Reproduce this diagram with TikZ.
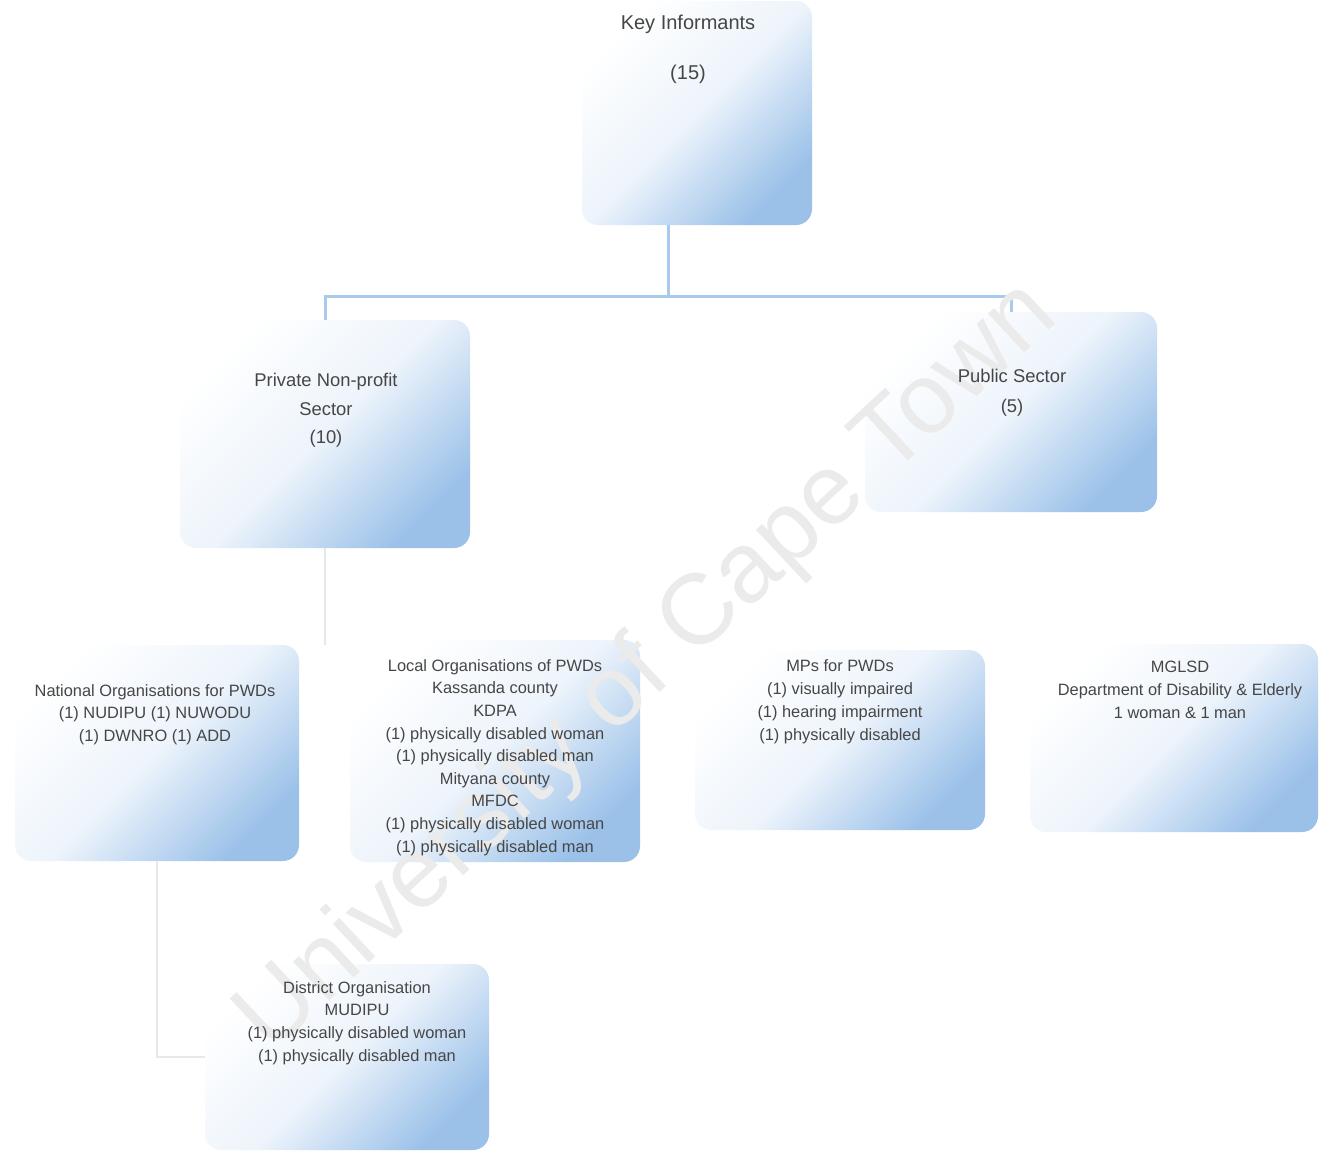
\documentclass[tikz,border=0pt]{standalone}
\usepackage{fontspec}
\setmainfont{Liberation Sans}
\usetikzlibrary{positioning}

\definecolor{boxblue}{RGB}{155,193,233}
\definecolor{linkblue}{RGB}{170,202,235}
\definecolor{inkgray}{RGB}{70,70,70}

\begin{document}
\begin{tikzpicture}[x=0.5pt, y=-0.5pt,
    orgbox/.style={rectangle, rounded corners=8pt, inner sep=0pt,
        top color=white, bottom color=boxblue, middle color=boxblue!18, shading angle=45},
    orgtext/.style={anchor=north, align=center, inner sep=0pt, text=inkgray,
        font=\fontsize{8.2}{11.3}\selectfont},
    link/.style={draw=linkblue, line width=1.5pt},
    faint/.style={draw=gray!18, line width=0.8pt}
   ]
\fill[white] (0,0) rectangle (1326,1152);
\useasboundingbox (0,0) rectangle (1326,1152);

% boxes
\node[orgbox, minimum width=115pt, minimum height=112pt] (kinf) at (697,113) {};
\node[orgbox, minimum width=145pt, minimum height=114pt] (priv) at (325,434) {};
\node[orgbox, minimum width=146pt, minimum height=100pt] (pub) at (1011,412) {};
\node[orgbox, minimum width=142pt, minimum height=108pt] (natl) at (157,753) {};
\node[orgbox, minimum width=145pt, minimum height=111pt] (local) at (495,751) {};
\node[orgbox, minimum width=145pt, minimum height=90pt] (mps) at (840,740) {};
\node[orgbox, minimum width=144pt, minimum height=94pt] (mglsd) at (1174,738) {};
\node[orgbox, minimum width=142pt, minimum height=93pt] (dist) at (347,1057) {};

% connectors
\coordinate (hub) at (668,296);
\draw[link] (kinf.south -| hub) -- (hub);
\draw[link] (priv.north) |- (hub) -| (pub.north);
\draw[faint] (priv.south) -- (priv.south |- natl.north);
\draw[faint] (natl.south) |- (dist.west);

% watermark, behind the texts
\node[rotate=43, text=gray!16, font=\fontsize{50}{60}\selectfont] (wmark) at (648,668)
    {University of Cape Town};

% texts
\node[orgtext, font=\fontsize{10}{12}\selectfont] (kinftxt) at (688,15)
    {Key Informants\\[13pt](15)};
\node[orgtext, font=\fontsize{9.2}{14.25}\selectfont] (privtxt) at (326,373)
    {Private Non-profit\\Sector\\(10)};
\node[orgtext, font=\fontsize{9.2}{15}\selectfont] (pubtxt) at (1012,369)
    {Public Sector\\(5)};
\node[orgtext] (natltxt) at (155,684)
    {National Organisations for PWDs\\(1) NUDIPU (1) NUWODU\\(1) DWNRO (1) ADD};
\node[orgtext] (localtxt) at (495,659)
    {Local Organisations of PWDs\\Kassanda county\\KDPA\\(1) physically disabled woman\\
     (1) physically disabled man\\Mityana county\\MFDC\\(1) physically disabled woman\\
     (1) physically disabled man};
\node[orgtext, font=\fontsize{8.2}{11.6}\selectfont] (mpstxt) at (840,659)
    {MPs for PWDs\\(1) visually impaired\\(1) hearing impairment\\(1) physically disabled};
\node[orgtext] (mglsdtxt) at (1180,661)
    {MGLSD\\Department of Disability \& Elderly\\1 woman \& 1 man};
\node[orgtext] (disttxt) at (357,981)
    {District Organisation\\MUDIPU\\(1) physically disabled woman\\(1) physically disabled man};
\end{tikzpicture}
\end{document}
